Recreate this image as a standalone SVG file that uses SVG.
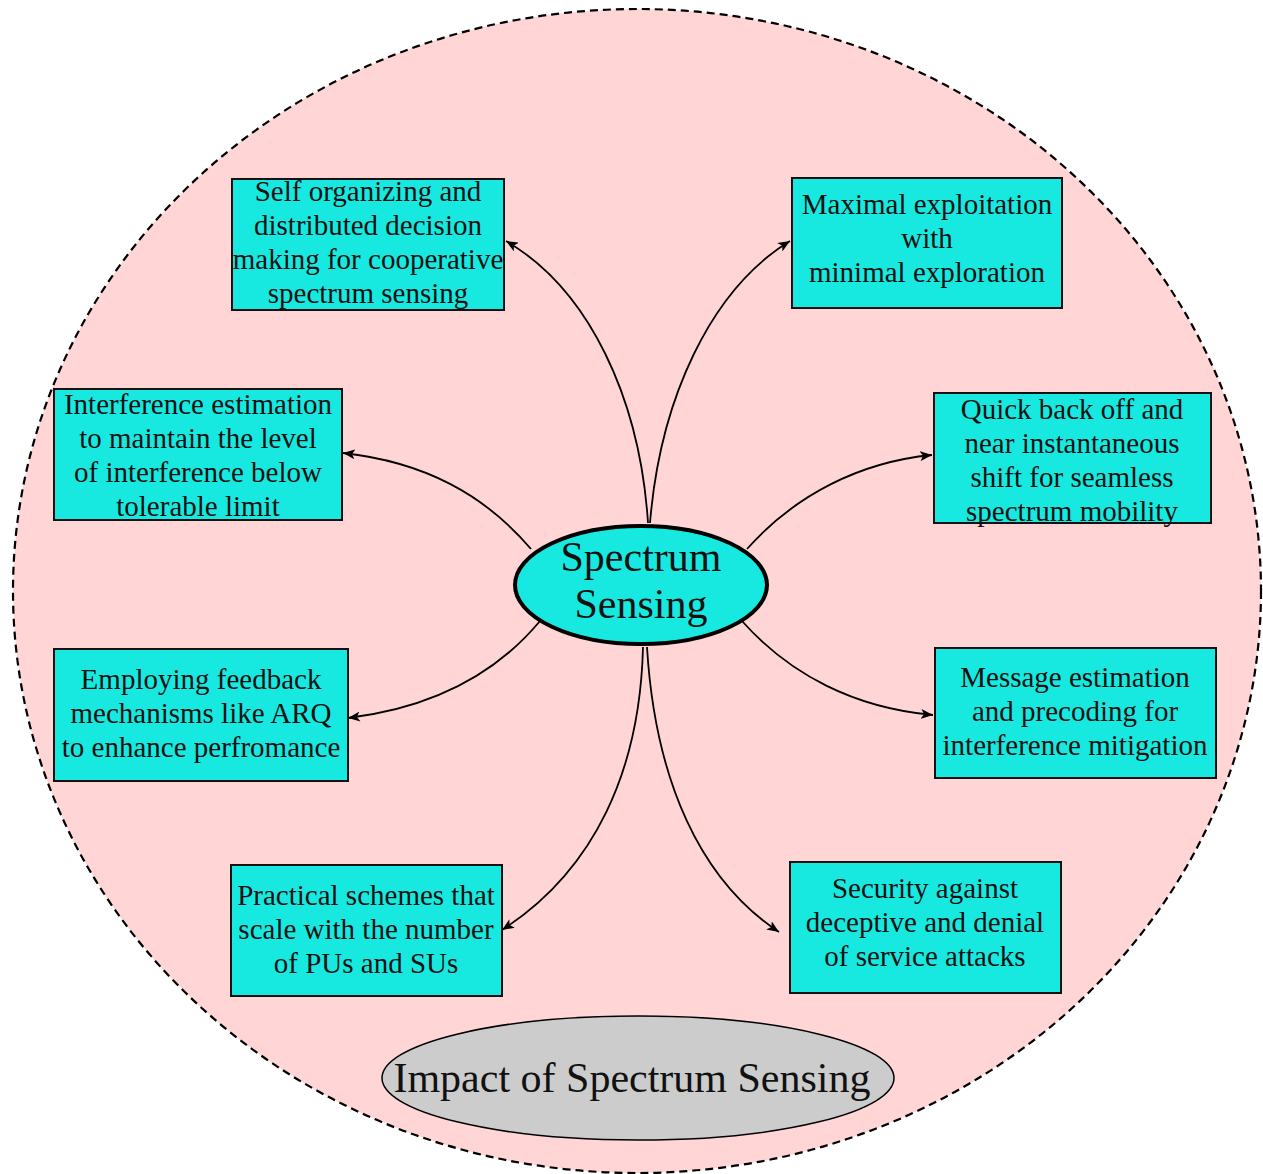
<svg xmlns="http://www.w3.org/2000/svg" width="1263" height="1174" viewBox="0 0 1263 1174">
<style>
.box{fill:#17e9e0;stroke:#111;stroke-width:2}
.t{font-family:"Liberation Serif","Times New Roman",serif;font-size:29px;fill:#111;text-anchor:middle}
.big{font-family:"Liberation Serif","Times New Roman",serif;font-size:42px;fill:#111;text-anchor:middle}
.c{fill:none;stroke:#000;stroke-width:1.8;marker-end:url(#ah)}
</style>
<defs>
<marker id="ah" markerWidth="14" markerHeight="10" refX="12" refY="5" orient="auto" markerUnits="userSpaceOnUse">
<path d="M0,0 L12,5 L0,10 L3,5 Z" fill="#000"/>
</marker>
</defs>
<rect width="1263" height="1174" fill="#fff"/>
<g id="background">
<ellipse cx="637" cy="591" rx="624" ry="582" fill="#ffd5d5" stroke="#000" stroke-width="2.2" stroke-dasharray="8,5"/>
</g>
<g id="connectors">
<path class="c" d="M648,523 C640,400 590,290 506,241"/>
<path class="c" d="M650,523 C660,400 710,290 790,241"/>
<path class="c" d="M531,549 C485,495 425,462 343,453"/>
<path class="c" d="M747,549 C795,495 860,462 932,455"/>
<path class="c" d="M540,621 C495,675 430,708 348,718"/>
<path class="c" d="M742,621 C790,675 855,708 933,715"/>
<path class="c" d="M643,647 C640,770 595,870 502,930"/>
<path class="c" d="M647,647 C655,780 700,880 779,932"/>
</g>
<g id="center">
<ellipse cx="641" cy="585" rx="126" ry="59" fill="#17e9e0" stroke="#000" stroke-width="4"/>
<text class="big" x="641" y="571">Spectrum</text>
<text class="big" x="641" y="618">Sensing</text>
</g>
<g id="n1">
<rect class="box" x="232" y="179" width="272" height="131"/>
<text class="t" x="368" y="201">Self organizing and</text>
<text class="t" x="368" y="235">distributed decision</text>
<text class="t" x="368" y="269">making for cooperative</text>
<text class="t" x="368" y="303">spectrum sensing</text>
</g>
<g id="n2">
<rect class="box" x="792" y="178" width="270" height="130"/>
<text class="t" x="927" y="214">Maximal exploitation</text>
<text class="t" x="927" y="248">with</text>
<text class="t" x="927" y="282">minimal exploration</text>
</g>
<g id="n3">
<rect class="box" x="54" y="389" width="288" height="131"/>
<text class="t" x="198" y="414">Interference estimation</text>
<text class="t" x="198" y="448">to maintain the level</text>
<text class="t" x="198" y="482">of interference below</text>
<text class="t" x="198" y="516">tolerable limit</text>
</g>
<g id="n4">
<rect class="box" x="934" y="393" width="277" height="130"/>
<text class="t" x="1072" y="419">Quick back off and</text>
<text class="t" x="1072" y="453">near instantaneous</text>
<text class="t" x="1072" y="487">shift for seamless</text>
<text class="t" x="1072" y="521">spectrum mobility</text>
</g>
<g id="n5">
<rect class="box" x="54" y="649" width="294" height="132"/>
<text class="t" x="201" y="689">Employing feedback</text>
<text class="t" x="201" y="723">mechanisms like ARQ</text>
<text class="t" x="201" y="757">to enhance perfromance</text>
</g>
<g id="n6">
<rect class="box" x="935" y="648" width="281" height="130"/>
<text class="t" x="1075" y="687">Message estimation</text>
<text class="t" x="1075" y="721">and precoding for</text>
<text class="t" x="1075" y="755">interference mitigation</text>
</g>
<g id="n7">
<rect class="box" x="231" y="865" width="271" height="131"/>
<text class="t" x="366" y="905">Practical schemes that</text>
<text class="t" x="366" y="939">scale with the number</text>
<text class="t" x="366" y="973">of PUs and SUs</text>
</g>
<g id="n8">
<rect class="box" x="790" y="862" width="271" height="131"/>
<text class="t" x="925" y="898">Security against</text>
<text class="t" x="925" y="932">deceptive and denial</text>
<text class="t" x="925" y="966">of service attacks</text>
</g>
<g id="label">
<ellipse cx="638" cy="1078" rx="256" ry="62" fill="#cccccc" stroke="#000" stroke-width="1.5"/>
<text class="big" x="632" y="1092">Impact of Spectrum Sensing</text>
</g>
</svg>
